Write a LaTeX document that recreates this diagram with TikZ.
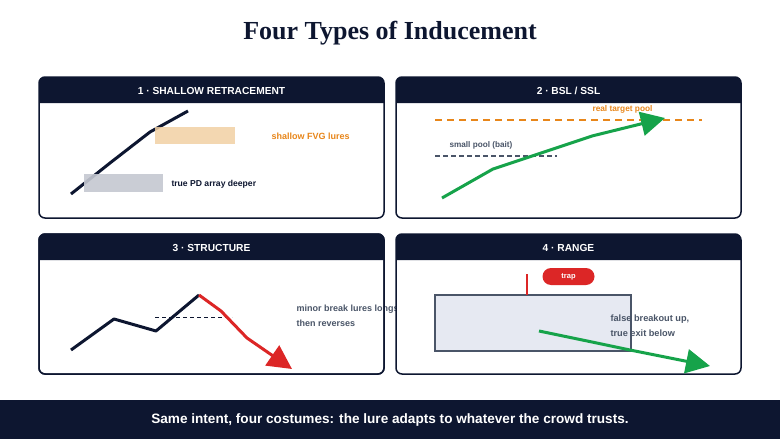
\documentclass[tikz,border=0pt]{standalone}
\usepackage{fontspec}
\setmainfont{Liberation Sans}
\newfontfamily\titlefont{Liberation Serif}
\usetikzlibrary{arrows.meta}
\definecolor{navy}{HTML}{0D1630}
\definecolor{lureorange}{HTML}{E8861A}
\definecolor{fvgfill}{HTML}{F2D0A4}
\definecolor{pdfill}{HTML}{C5C8D1}
\definecolor{slate}{HTML}{4A5568}
\definecolor{upgreen}{HTML}{16A34A}
\definecolor{downred}{HTML}{DC2626}
\definecolor{rangefill}{HTML}{E6E9F2}
\begin{document}
\begin{tikzpicture}[x=1pt,y=-1pt,
    panel/.style={draw=navy,line width=1.5pt,fill=white,rounded corners=6pt},
    header/.style={text=white,font=\bfseries\fontsize{10.2}{12}\selectfont},
    note/.style={anchor=west,font=\bfseries\fontsize{#1}{11}\selectfont},
    note/.default=8.5,
    price/.style={line width=3pt,line join=round},
    bigtip/.style={-{Triangle[length=24pt,width=24pt]}}]
  \useasboundingbox (0,0) rectangle (780,439);
  \node (title) at (390,33) {\titlefont\bfseries\fontsize{26}{30}\selectfont\color{navy}Four Types of Inducement};

  % panel 1
  \draw[panel] (39,77) rectangle (384,218);
  \fill[navy] (39,103) [rounded corners=6pt] -- (39,77) -- (384,77) [sharp corners] -- (384,103) -- cycle;
  \node[header] (h1) at (211.5,91) {1 · SHALLOW RETRACEMENT};
  \draw[price,navy] (71,194) -- (110,163) -- (150,132) -- (188,111);
  \fill[fvgfill,opacity=0.85] (155,127) rectangle (235,144);
  \fill[pdfill,opacity=0.9] (84,174) rectangle (163,192);
  \node[note=9,text=lureorange] (fvg) at (268,136) {shallow FVG lures};
  \node[note=8.6,text=navy] (pd) at (168,184) {true PD array deeper};

  % panel 2
  \draw[panel] (396,77) rectangle (741,218);
  \fill[navy] (396,103) [rounded corners=6pt] -- (396,77) -- (741,77) [sharp corners] -- (741,103) -- cycle;
  \node[header] (h2) at (568.5,91) {2 · BSL / SSL};
  \node[note=8.3,text=lureorange] (target) at (589,109.5) {real target pool};
  \draw[lureorange,line width=2pt,dash pattern=on 7pt off 5pt] (435,120) -- (702,120);
  \node[note=8.2,text=slate] (bait) at (446,145.5) {small pool (bait)};
  \draw[slate,line width=1.8pt,dash pattern=on 5pt off 3pt] (435,156) -- (557,156);
  \draw[price,bigtip,upgreen] (442,198) -- (493,169) -- (592,136) -- (665,118);

  % panel 3
  \draw[panel] (39,234) rectangle (384,374);
  \fill[navy] (39,260) [rounded corners=6pt] -- (39,234) -- (384,234) [sharp corners] -- (384,260) -- cycle;
  \node[header] (h3) at (211.5,248) {3 · STRUCTURE};
  \draw[navy,line width=1pt,dash pattern=on 4pt off 3pt] (155,317) -- (232,317);
  \draw[price,navy] (71,350) -- (114,319) -- (156,331) -- (199,295);
  \draw[price,bigtip,downred] (199,295) -- (221,311) -- (247,338) -- (292,369);
  \node[note=9,text=slate] (minor) at (293,309.5) {minor break lures longs};
  \node[note=9,text=slate] (rev) at (293,323) {then reverses};
  \draw[navy,line width=1.5pt,rounded corners=6pt] (39,234) rectangle (384,374);

  % panel 4
  \draw[panel] (396,234) rectangle (741,374);
  \fill[navy] (396,260) [rounded corners=6pt] -- (396,234) -- (741,234) [sharp corners] -- (741,260) -- cycle;
  \node[header] (h4) at (568.5,248) {4 · RANGE};
  \draw[slate,line width=1.5pt,fill=rangefill] (435,295) rectangle (631,351);
  \coordinate (wick) at (527,274);
  \draw[downred,line width=2.5pt] (wick) -- (527,295);
  \node[fill=downred,text=white,rounded corners=8.5pt,minimum width=52pt,minimum height=17pt,inner sep=0pt,
    font=\bfseries\fontsize{7.5}{9}\selectfont] (trap) at (568.5,276.5) {trap};
  \node[note=9.2,text=slate] (fakeout) at (607,319.5) {false breakout up,};
  \node[note=9.2,text=slate] (exit) at (607,333) {true exit below};
  \draw[price,bigtip,upgreen] (539,331) -- (592,342) -- (630,350) -- (710,366);

  % footer
  \fill[navy] (0,400) rectangle (780,439);
  \node[text=white,font=\bfseries\fontsize{13.6}{16}\selectfont] (moral) at (390,419.5)
    {Same intent, four costumes: the lure adapts to whatever the crowd trusts.};
\end{tikzpicture}
\end{document}
